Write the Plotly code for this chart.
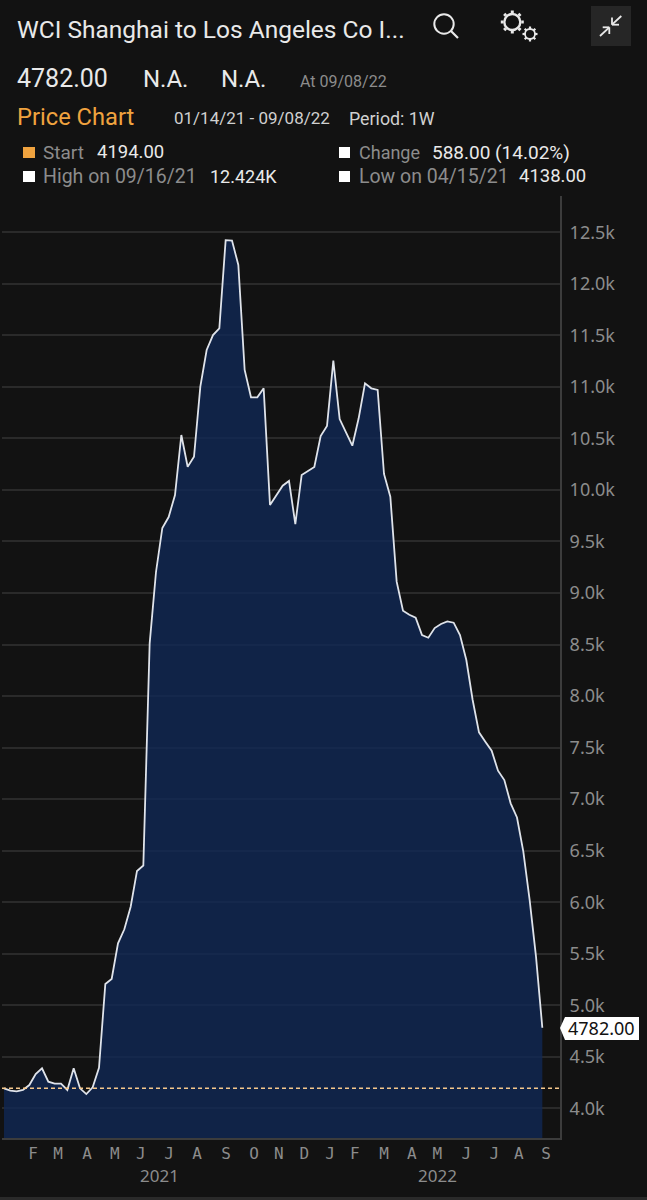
import math
import plotly.graph_objects as go

# ========================= DATA =========================
WEEK = list(range(86))
PRICE = [
    4194, 4171, 4165, 4178, 4226, 4333, 4388, 4258, 4239, 4239,
    4178, 4388, 4194, 4138, 4204, 4394, 5206, 5255, 5601, 5737,
    5956, 6303, 6356, 8512, 9204, 9631, 9737, 9951, 10533, 10225,
    10322, 11002, 11358, 11503, 11568, 12424, 12420, 12183, 11164, 10899,
    10899, 10986, 9854, 9951, 10041, 10087, 9669, 10145, 10184, 10223,
    10523, 10620, 11254, 10688, 10559, 10429, 10695, 11035, 10986, 10970,
    10155, 9934, 9110, 8828, 8789, 8760, 8592, 8566, 8660, 8699,
    8725, 8712, 8592, 8350, 7962, 7648, 7557, 7470, 7276, 7185,
    6959, 6822, 6490, 6021, 5471, 4782,
]
START = 4194
LAST = 4782

MONTH_POS = [4.58, 8.53, 13.1, 17.5, 21.6, 26.05, 30.5, 35.05, 39.5, 43.4,
             47.4, 51.5, 55.4, 60.0, 64.4, 68.4, 73.0, 77.4, 81.3, 85.6]
MONTH_TEXT = ["F", "M", "A", "M", "J", "J", "A", "S", "O", "N",
              "D", "J", "F", "M", "A", "M", "J", "J", "A", "S"]
YEAR_POS = [24.5, 68.5]
YEAR_TEXT = ["2021", "2022"]

Y_TICKS = [4000 + 500 * i for i in range(18)]
Y_TEXT = [f"{v / 1000:.1f}k" for v in Y_TICKS]

# ========================= CONFIG =========================
W, H = 647, 1200
BG = "#121212"
NAVY = "rgba(16,40,85,0.8)"
GRID = "#2a2a2a"
AXIS = "#3c3c3c"
GREY = "#8c8c8c"
WHITE = "#e9e9e9"
ORANGE = "#f0a33f"
TEXT_FONT = "Roboto"


def px(x):
    return x / W


def py(y):
    return 1 - y / H


def rect(x0, y0, x1, y1, color):
    return dict(type="rect", xref="paper", yref="paper", x0=px(x0), x1=px(x1),
                y0=py(y0), y1=py(y1), fillcolor=color, line_width=0)


def seg(x0, y0, x1, y1, color=WHITE, width=1.8):
    return dict(type="line", xref="paper", yref="paper", x0=px(x0), x1=px(x1),
                y0=py(y0), y1=py(y1), line=dict(color=color, width=width))


def ring(cx, cy, r, color=WHITE, width=2):
    return dict(type="circle", xref="paper", yref="paper", x0=px(cx - r), x1=px(cx + r),
                y0=py(cy + r), y1=py(cy - r), line=dict(color=color, width=width))


def label(x, y, text, size=17, color=WHITE):
    return dict(x=px(x), y=py(y), xref="paper", yref="paper", text=text, showarrow=False,
                xanchor="left", yanchor="middle", borderpad=0,
                font=dict(family=TEXT_FONT, size=size, color=color))


# =========================
# CREATE FIGURE
# =========================
fig = go.Figure()

fig.add_trace(go.Scatter(
    x=WEEK,
    y=PRICE,
    mode="lines",
    fill="tozeroy",
    fillcolor=NAVY,
    line=dict(color="#dfe3ea", width=1.8),
    showlegend=False,
    hoverinfo="skip",
))

# =========================
# HEADER TEXT
# =========================
annotations = [
    label(16, 29, "WCI Shanghai to Los Angeles Co I...", 24.5),
    label(16, 79, "4782.00", 25),
    label(142, 79, "N.A.", 24),
    label(220, 79, "N.A.", 24),
    label(299, 81, "At 09/08/22", 16, GREY),
    label(16, 117, "Price Chart", 23.7, ORANGE),
    label(173, 118, "01/14/21 - 09/08/22", 17, "#d0d0d0"),
    label(348, 118, "Period: 1W", 17.8, "#d0d0d0"),
    label(42, 152, "Start", 19, GREY),
    label(96, 152, "4194.00", 18.5),
    label(358, 152, "Change", 18, GREY),
    label(431, 152, "588.00 (14.02%)", 19),
    label(42, 176, "High on 09/16/21", 19.5, GREY),
    label(209, 176, "12.424K", 18),
    label(358, 176, "Low on 04/15/21", 19.5, GREY),
    label(518, 176, "4138.00", 18.5),
]

for pos, text in zip(YEAR_POS, YEAR_TEXT):
    annotations.append(dict(x=pos, y=py(1175), xref="x", yref="paper", text=text,
                            showarrow=False, xanchor="center", yanchor="middle",
                            font=dict(family="Noto Sans", size=17, color=GREY)))

# last price tag
annotations.append(dict(x=px(601), y=LAST, xref="paper", yref="y", text=f"{LAST:.2f}",
                        showarrow=False, xanchor="center", yanchor="middle",
                        font=dict(family="Noto Sans", size=18, color="#111111")))

# =========================
# SHAPES: icons, swatches, start line
# =========================
shapes = [
    dict(type="line", xref="paper", yref="y", x0=px(2), x1=px(560), y0=START, y1=START,
         line=dict(color="#f6c88c", width=1.5, dash="4px,3px"), layer="above"),
    rect(0, 1197, W, H, "#2a2a2a"),
    rect(23, 147, 35, 158, ORANGE),
    rect(339, 147, 350, 158, "#ffffff"),
    rect(23, 171, 35, 182, "#ffffff"),
    rect(339, 171, 350, 182, "#ffffff"),
    # search
    ring(444, 24, 9.7),
    seg(451, 31, 458, 38, width=2.2),
    # gears
    ring(512.3, 22, 8, width=2.4),
    ring(530, 34, 5, width=1.8),
    # collapse button
    dict(type="rect", xref="paper", yref="paper", x0=px(591), x1=px(631), y0=py(6), y1=py(46),
         fillcolor="#262626", line_width=0),
    seg(600, 36, 609.3, 27.3),
    seg(602.7, 27.3, 609.3, 27.3),
    seg(609.3, 27.3, 609.3, 34),
    seg(621.3, 16, 612, 24.7),
    seg(612, 17.5, 612, 24.7),
    seg(612, 24.7, 619, 24.7),
    # price tag body
    dict(type="path", xref="paper", yref="paper", fillcolor="#ffffff", line_width=0,
         path=f"M {px(560)} {py(1028)} L {px(565)} {py(1017)} L {px(639)} {py(1017)} "
              f"L {px(639)} {py(1040)} L {px(565)} {py(1040)} Z"),
]

for cx, cy, r, n, width in [(512.3, 22, 11, 8, 3), (530, 34, 7, 8, 2.2)]:
    for k in range(n):
        a = 2 * math.pi * k / n
        shapes.append(seg(cx + (r - 2) * math.cos(a), cy + (r - 2) * math.sin(a),
                          cx + (r + 0.5) * math.cos(a), cy + (r + 0.5) * math.sin(a),
                          width=width))

# =========================
# LAYOUT
# =========================
fig.update_layout(
    width=W,
    height=H,
    paper_bgcolor=BG,
    plot_bgcolor=BG,
    margin=dict(l=0, r=0, t=0, b=0),
    showlegend=False,
    annotations=annotations,
    shapes=shapes,
    xaxis=dict(
        domain=[px(1.7), px(560)],
        range=[-0.363, 87.79],
        tickmode="array",
        tickvals=MONTH_POS,
        ticktext=MONTH_TEXT,
        tickfont=dict(family="DejaVu Sans Mono", size=16, color=GREY),
        showgrid=False,
        zeroline=False,
        showline=True,
        linecolor=AXIS,
        linewidth=2,
        ticks="",
    ),
    yaxis=dict(
        domain=[py(1138), py(196)],
        range=[3712, 12852],
        side="right",
        tickmode="array",
        tickvals=Y_TICKS,
        ticktext=Y_TEXT,
        tickfont=dict(family="Noto Sans", size=18, color=GREY),
        gridcolor=GRID,
        gridwidth=1.5,
        zeroline=False,
        showline=True,
        linecolor=AXIS,
        linewidth=2,
        ticks="",
        ticklabelstandoff=4,
    ),
)

# page margin off, so the figure fills the window
fig.write_html(
    "out.html",
    config=dict(displayModeBar=False),
    post_script="document.body.style.margin='0';document.body.style.overflow='hidden';document.body.style.background='#121212';",
)
